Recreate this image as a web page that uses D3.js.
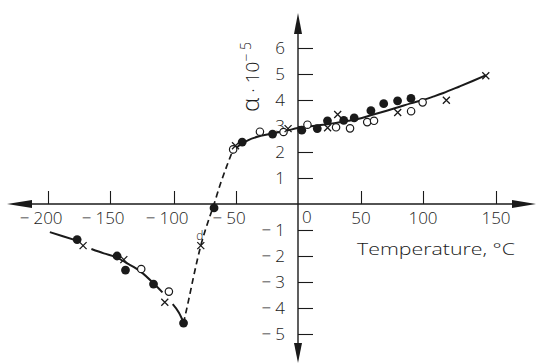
<!DOCTYPE html>
<html>
<head>
<meta charset="utf-8">
<script src="https://cdn.jsdelivr.net/npm/d3@7"></script>
<style>
body { margin: 0; background: #fff; }
svg { display: block; font-family: "Open Sans", "Liberation Sans", Arial, sans-serif; font-weight: 300; }
</style>
</head>
<body>
<script>
// tick values
var xTicks = [-200, -150, -100, -50, 0, 50, 100, 150];
var yTicks = [-5, -4, -3, -2, -1, 1, 2, 3, 4, 5, 6];

// measured points [temperature, alpha*1e5]
var filledPts = [[-176.5, -1.37], [-144.5, -2.0], [-137.9, -2.54], [-116, -3.08], [-92.3, -4.58], [-67.7, -0.15],
                 [-45, 2.38], [-20.5, 2.69], [3, 2.84], [15.3, 2.9], [23.4, 3.2], [36.3, 3.22], [44.6, 3.31],
                 [58, 3.59], [68.3, 3.86], [79.5, 3.97], [90.3, 4.06]];
var openPts = [[-125.6, -2.5], [-104, -3.37],
               [-52.3, 2.1], [-30.7, 2.78], [-11.7, 2.77], [7.5, 3.05], [30.2, 2.95], [41.3, 2.91],
               [55, 3.15], [60.5, 3.2], [90.4, 3.57], [99.7, 3.91]];
var crossPts = [[-171.7, -1.6], [-139.2, -2.14], [-107.2, -3.78], [-78.4, -1.6],
                [-50.4, 2.24], [-8, 2.9], [23.5, 2.93], [31.5, 3.44], [79.6, 3.52], [116, 3.99], [143, 4.93]];

// drawn curves
var lowBranch = [
    [[-198.5, -1.08], [-188, -1.24], [-176, -1.42]],
    [[-165, -1.73], [-155, -1.9], [-145, -2.05], [-137, -2.27], [-126, -2.6], [-116, -3.05], [-109, -3.4]],
    [[-101, -3.85], [-96, -4.18], [-92.3, -4.55]]
];
var dashedPart = [[-92.3, -4.58], [-88, -3.65], [-84.6, -2.88], [-78.4, -1.6], [-73, -0.75], [-68, -0.05],
                  [-62.4, 0.8], [-57.5, 1.45], [-53.5, 1.95]];
var highBranch = [[-53.5, 1.95], [-50, 2.15], [-45, 2.33], [-40, 2.46], [-30, 2.62], [-20, 2.72], [-10, 2.81],
                  [0, 2.92], [10, 2.99], [20, 3.05], [30, 3.12], [40, 3.2], [50, 3.3], [60, 3.44], [70, 3.58],
                  [80, 3.72], [90, 3.87], [100, 4.0], [108, 4.15], [114, 4.27], [125, 4.52], [134, 4.73], [143, 4.95]];

var svg = d3.select("body").append("svg")
            .attr("width", 536)
            .attr("height", 364);

// hand drawn axis is a little uneven, follow the printed ticks
var x = d3.scaleLinear()
          .domain(xTicks)
          .range([48, 110, 174, 236, 298, 361, 423, 496]);
var y = d3.scaleLinear()
          .domain([-5, 6])
          .range([334, 48]);

var ink = "#1a1a1a";
var x0 = x(0), y0 = y(0);

// axes lines with arrow heads
svg.append("line").attr("x1", 28).attr("x2", 514).attr("y1", y0).attr("y2", y0)
   .attr("stroke", ink).attr("stroke-width", 1.4);
svg.append("line").attr("x1", x0).attr("x2", x0).attr("y1", 30).attr("y2", 346)
   .attr("stroke", ink).attr("stroke-width", 1.4);
var heads = [
    [[7, y0], [32, y0 - 4], [32, y0 + 4]],
    [[536, y0], [512, y0 - 4], [512, y0 + 4]],
    [[x0, 13], [x0 - 4, 34], [x0 + 4, 34]],
    [[x0, 363], [x0 - 4, 343], [x0 + 4, 343]]
];
svg.selectAll("polygon.head").data(heads).enter().append("polygon")
   .attr("class", "head")
   .attr("points", function(d) { return d.join(" "); })
   .attr("fill", ink);

// ticks
var xAxis = svg.append("g")
               .attr("transform", "translate(0," + y0 + ")")
               .call(d3.axisTop(x).tickValues(xTicks.filter(function(d) { return d !== 0; }))
                                  .tickSize(13).tickFormat(""));
var yAxis = svg.append("g")
               .attr("transform", "translate(" + x0 + ",0)")
               .call(d3.axisRight(y).tickValues(yTicks).tickSize(15).tickFormat(""));
svg.selectAll(".domain").remove();
svg.selectAll(".tick line").attr("stroke", ink).attr("stroke-width", 1.1);

// x tick labels: digits centred on tick, minus sign to the left
var xLab = svg.append("g").attr("font-size", 17).attr("fill", ink);
xTicks.forEach(function(d) {
    if (d === 0) {
        xLab.append("text").attr("x", x0 + 4).attr("y", y0 + 19).text("0");
        return;
    }
    var t = xLab.append("text").attr("x", x(d)).attr("y", y0 + 20)
                .attr("text-anchor", "middle").text(Math.abs(d));
    if (d < 0) {
        var w = t.node().getComputedTextLength();
        xLab.append("text").attr("x", x(d) - w / 2 - 4).attr("y", y0 + 20)
            .attr("text-anchor", "end").text("\u2212");
    }
});

// y tick labels
var yLab = svg.append("g").attr("font-size", 17).attr("fill", ink);
yTicks.forEach(function(d) {
    var t = yLab.append("text").attr("x", x0 - 13).attr("y", y(d) + 6)
                .attr("text-anchor", "end").text(Math.abs(d));
    if (d < 0) {
        var w = t.node().getComputedTextLength();
        yLab.append("text").attr("x", x0 - 13 - w - 4).attr("y", y(d) + 6)
            .attr("text-anchor", "end").text("\u2212");
    }
});

// axis titles
svg.append("text")
   .attr("x", 357).attr("y", 255)
   .attr("font-size", 17).attr("fill", ink)
   .attr("textLength", 158).attr("lengthAdjust", "spacingAndGlyphs")
   .text("Temperature, \u00b0C");

var yTitle = svg.append("text")
                .attr("transform", "translate(259,77) rotate(-90)")
                .attr("text-anchor", "middle")
                .attr("font-size", 19).attr("fill", ink);
yTitle.append("tspan").attr("font-size", 24).text("\u03b1");
yTitle.append("tspan").text(" \u00b7 10");
yTitle.append("tspan").attr("dy", -8).attr("font-size", 14).text("\u2212 5");

// curves
var line = d3.line()
             .x(function(d) { return x(d[0]); })
             .y(function(d) { return y(d[1]); })
             .curve(d3.curveMonotoneX);

svg.selectAll("path.low").data(lowBranch).enter().append("path")
   .attr("class", "low")
   .attr("d", line)
   .attr("fill", "none").attr("stroke", ink).attr("stroke-width", 2);
svg.append("path").datum(dashedPart)
   .attr("d", line)
   .attr("fill", "none").attr("stroke", ink).attr("stroke-width", 1.7)
   .attr("stroke-dasharray", "6,4");
svg.append("path").datum(highBranch)
   .attr("d", line)
   .attr("fill", "none").attr("stroke", ink).attr("stroke-width", 2);

// markers
svg.selectAll("circle.filled").data(filledPts).enter().append("circle")
   .attr("class", "filled")
   .attr("cx", function(d) { return x(d[0]); })
   .attr("cy", function(d) { return y(d[1]); })
   .attr("r", 4.4)
   .attr("fill", ink);
svg.selectAll("circle.open").data(openPts).enter().append("circle")
   .attr("class", "open")
   .attr("cx", function(d) { return x(d[0]); })
   .attr("cy", function(d) { return y(d[1]); })
   .attr("r", 3.7)
   .attr("fill", "#fff").attr("stroke", ink).attr("stroke-width", 1.2);
svg.selectAll("path.cross").data(crossPts).enter().append("path")
   .attr("class", "cross")
   .attr("transform", function(d) { return "translate(" + x(d[0]) + "," + y(d[1]) + ")"; })
   .attr("d", "M-3.5,-3.5L3.5,3.5M-3.5,3.5L3.5,-3.5")
   .attr("stroke", ink).attr("stroke-width", 1.3);

// small letter next to the cross on the dashed part
svg.append("text")
   .attr("x", x(-78.4) - 1).attr("y", y(-1.6) - 6)
   .attr("text-anchor", "middle").attr("font-size", 12).attr("fill", ink)
   .text("d");
</script>
</body>
</html>
